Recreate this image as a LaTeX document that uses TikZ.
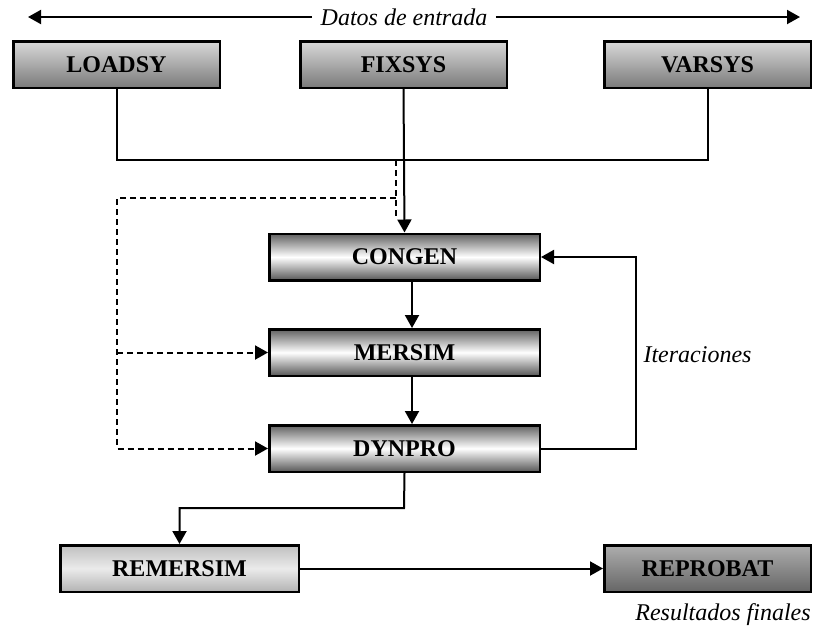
\documentclass[tikz,border=0pt]{standalone}
\usepackage{fontspec}
\setmainfont{Liberation Serif}
\usetikzlibrary{arrows.meta}
\tikzset{
  boxbase/.style={draw=black, line width=2.5pt, inner sep=0pt, font=\fontsize{24}{27}\selectfont\bfseries},
  topbox/.style={boxbase, minimum width=206.5pt, minimum height=46.5pt, top color=black!15, bottom color=black!52},
  midbox/.style={boxbase, minimum width=270.5pt, minimum height=46.5pt, top color=black!62, bottom color=black!66, middle color=white},
  rembox/.style={boxbase, minimum width=238.5pt, minimum height=46.5pt, top color=black!25, bottom color=black!30, middle color=black!8},
  repbox/.style={boxbase, minimum width=206.5pt, minimum height=46.5pt, top color=black!32, bottom color=black!60},
  lbl/.style={font=\fontsize{24}{27}\selectfont\itshape},
  conn/.style={line width=2pt},
  arr/.style={conn, -{Triangle[length=13pt,width=14pt]}},
  dsh/.style={line width=2pt, dash pattern=on 6pt off 4pt},
  darr/.style={dsh, -{Triangle[length=13pt,width=14pt]}}
}
\begin{document}
\begin{tikzpicture}[x=1pt,y=-1pt]
\useasboundingbox (0,0) rectangle (837,630);
% boxes
\node[topbox] (loadsy) at (116.5,64.5) {LOADSY};
\node[topbox] (fixsys) at (403.5,64.5) {FIXSYS};
\node[topbox] (varsys) at (707.5,64.5) {VARSYS};
\node[midbox] (congen) at (404.5,257) {CONGEN};
\node[midbox] (mersim) at (404.5,352.5) {MERSIM};
\node[midbox] (dynpro) at (404.5,448.5) {DYNPRO};
\node[rembox] (remersim) at (179.5,568.5) {REMERSIM};
\node[repbox] (reprobat) at (707.5,568.5) {REPROBAT};
% labels
\node[lbl] (datos) at (404,17) {Datos de entrada};
\node[lbl, anchor=west] (iter) at (640,355) {Iteraciones};
\node[lbl] (result) at (723,615) {Resultados finales};
% top arrows
\coordinate (tl) at (28,17);
\coordinate (tr) at (800,17);
\draw[arr] (datos.west) ++(-5,0) coordinate (dl) -- (tl);
\draw[arr] (datos.east) ++(5,0) coordinate (dr) -- (tr);
% bus
\coordinate (bus) at (404,160);
\draw[conn] (loadsy.south) |- (bus) -| (varsys.south);
\draw[arr] (fixsys.south) -- (congen.north);
% dashed feeds
\coordinate (d0) at (396,160);
\coordinate (d1) at (396,198);
\coordinate (d2) at (396,216);
\coordinate (d3) at (117,198);
\draw[dsh] (d0) -- (d2);
\draw[darr] (d1) -- (d3) |- (dynpro.west);
\coordinate (d4) at (117,352.5);
\draw[darr] (d4) -- (mersim.west);
% chain
\draw[arr] ([xshift=7.5pt]congen.south) -- ([xshift=7.5pt]mersim.north);
\draw[arr] ([xshift=7.5pt]mersim.south) -- ([xshift=7.5pt]dynpro.north);
% iteration loop
\coordinate (loop) at (636,448.5);
\draw[arr] (dynpro.east) -- (loop) |- (congen.east);
% down to results
\coordinate (low) at (404,508);
\draw[arr] (dynpro.south) -- (low) -| (remersim.north);
\draw[arr] (remersim.east) -- (reprobat.west);
\end{tikzpicture}
\end{document}
